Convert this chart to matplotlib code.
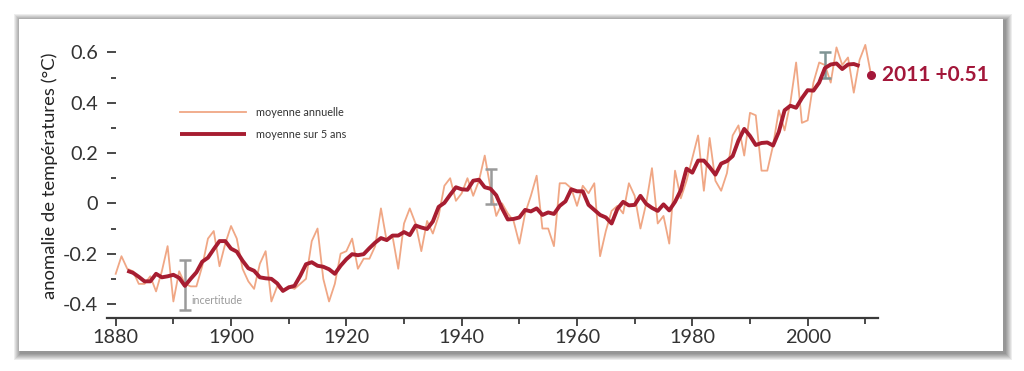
import matplotlib
matplotlib.use("Agg")
import matplotlib.pyplot as plt
from matplotlib.patches import Rectangle

plt.rcParams['font.family'] = ['Lato', 'DejaVu Sans']

# ---------------- data ----------------
years = list(range(1880, 2012))
annual = [
    -0.28, -0.21, -0.26, -0.27, -0.32, -0.32, -0.29, -0.35, -0.27, -0.17,
    -0.39, -0.27, -0.32, -0.33, -0.33, -0.25, -0.14, -0.11, -0.25, -0.16,
    -0.09, -0.14, -0.26, -0.31, -0.34, -0.24, -0.19, -0.39, -0.33, -0.35,
    -0.33, -0.34, -0.32, -0.30, -0.15, -0.10, -0.30, -0.39, -0.32, -0.20,
    -0.19, -0.14, -0.26, -0.22, -0.22, -0.17, -0.02, -0.15, -0.13, -0.26,
    -0.08, -0.02, -0.08, -0.19, -0.07, -0.12, -0.05, 0.07, 0.10, 0.01,
    0.04, 0.10, 0.03, 0.09, 0.19, 0.06, -0.05, 0.00, -0.04, -0.07,
    -0.16, -0.04, 0.03, 0.11, -0.10, -0.10, -0.17, 0.08, 0.08, 0.06,
    -0.01, 0.07, 0.04, 0.08, -0.21, -0.11, -0.03, -0.01, -0.04, 0.08,
    0.03, -0.10, 0.00, 0.14, -0.08, -0.05, -0.16, 0.13, 0.02, 0.09,
    0.18, 0.27, 0.05, 0.26, 0.09, 0.05, 0.12, 0.27, 0.31, 0.19,
    0.36, 0.35, 0.13, 0.13, 0.23, 0.37, 0.29, 0.40, 0.56, 0.32,
    0.33, 0.48, 0.56, 0.55, 0.48, 0.62, 0.55, 0.58, 0.44, 0.57,
    0.63, 0.51,
]

years5 = list(range(1882, 2010))
mean5 = [
    -0.268, -0.276, -0.292, -0.310, -0.310, -0.280, -0.294, -0.290,
    -0.284, -0.296, -0.328, -0.300, -0.274, -0.232, -0.216, -0.182, -0.150, -0.150,
    -0.180, -0.192, -0.228, -0.258, -0.268, -0.294, -0.298, -0.300, -0.318, -0.348,
    -0.334, -0.328, -0.288, -0.242, -0.234, -0.248, -0.252, -0.262, -0.280, -0.248,
    -0.222, -0.202, -0.206, -0.202, -0.178, -0.156, -0.138, -0.146, -0.128, -0.128,
    -0.114, -0.126, -0.088, -0.096, -0.102, -0.072, -0.014, 0.002, 0.034, 0.064,
    0.056, 0.054, 0.090, 0.094, 0.064, 0.058, 0.032, -0.020, -0.064, -0.062,
    -0.056, -0.026, -0.032, -0.020, -0.046, -0.036, -0.042, -0.010, 0.008, 0.056,
    0.048, 0.048, -0.006, -0.026, -0.046, -0.056, -0.080, -0.022, 0.006, -0.008,
    -0.006, 0.030, -0.002, -0.018, -0.030, -0.004, -0.028, 0.006, 0.052, 0.138,
    0.122, 0.170, 0.170, 0.144, 0.114, 0.158, 0.168, 0.188, 0.250, 0.296,
    0.268, 0.232, 0.240, 0.242, 0.230, 0.284, 0.370, 0.388, 0.380, 0.418,
    0.450, 0.448, 0.480, 0.538, 0.552, 0.556, 0.534, 0.552, 0.554, 0.546,
]

unc_years = [1892, 1945, 2003]
unc_center = [-0.325, 0.067, 0.55]
unc_half = [0.10, 0.07, 0.05]

last_year = 2011
last_value = 0.51

yticks_major = [-0.4, -0.2, 0.0, 0.2, 0.4, 0.6]
ytick_labels = ['-0.4', '-0.2', '0', '0.2', '0.4', '0.6']
yticks_minor = [-0.3, -0.1, 0.1, 0.3, 0.5]
xticks_major = [1880, 1900, 1920, 1940, 1960, 1980, 2000]
xticks_minor = [1890, 1910, 1930, 1950, 1970, 1990, 2010]

legend_labels = ['moyenne annuelle', 'moyenne sur 5 ans']
ylabel_text = 'anomalie de températures (°C)'

# ---------------- figure ----------------
W, H = 1024, 371
fig = plt.figure(figsize=(W / 100, H / 100), dpi=100)
fig.patch.set_facecolor('white')


def fx(px):
    return px / W


def fy(py):
    return 1 - py / H


# framed panel with soft drop shadow
px0, py0, px1, py1 = 19, 19, 1003, 351
for i in range(7, 0, -1):
    s = i * 1.0
    fig.patches.append(Rectangle((fx(px0 - s + 2), fy(py1 + s + 2)),
                                 fx(px1 - px0 + 2 * s), (py1 - py0 + 2 * s) / H,
                                 transform=fig.transFigure, facecolor='black',
                                 edgecolor='none', alpha=0.07, zorder=0))
fig.patches.append(Rectangle((fx(px0), fy(py1)), fx(px1 - px0), (py1 - py0) / H,
                             transform=fig.transFigure, facecolor='white',
                             edgecolor='none', zorder=1))

# axes placement
ax_left, ax_right = 107, 878
ax_top, ax_bottom = 32.3, 318
ax = fig.add_axes([fx(ax_left), fy(ax_bottom), fx(ax_right - ax_left),
                   (ax_bottom - ax_top) / H])
ax.set_facecolor('none')
ax.set_zorder(2)

ax.set_xlim(1878.49, 2012.2)
ax.set_ylim(-0.4557, 0.68)

c_annual = '#f0a785'
c_mean = '#a71d31'
c_text = '#a3173a'
c_axis = '#3a3a3a'

ax.plot(years, annual, color=c_annual, lw=1.3, label=legend_labels[0], zorder=3,
        solid_joinstyle='round')
ax.plot(years5, mean5, color=c_mean, lw=2.8, label=legend_labels[1], zorder=4,
        solid_joinstyle='round', solid_capstyle='butt')

unc_colors = ['#9a9a9a', '#9a9a9a', '#7f9494']
for yr, c, h, col in zip(unc_years, unc_center, unc_half, unc_colors):
    ax.errorbar([yr], [c], yerr=[h], fmt='none', ecolor=col, elinewidth=1.8,
                capsize=4, capthick=1.8, zorder=3.5)

ax.text(1893.2, -0.387, 'incertitude', fontsize=7.7, color='#9a9a9a',
        ha='left', va='center', zorder=5)

ax.plot([last_year], [last_value], 'o', color=c_text, ms=5.5, zorder=5,
        clip_on=False)
ax.annotate(f'{last_year} +{last_value:.2f}', xy=(last_year, last_value),
            xytext=(8, 0), textcoords='offset points', fontsize=15,
            fontweight='bold', color=c_text, ha='left', va='center',
            annotation_clip=False)

# spines / ticks
for side in ['top', 'right']:
    ax.spines[side].set_visible(False)
ax.spines['left'].set_visible(False)
ax.spines['left'].set_position(('data', 1880))
ax.spines['bottom'].set_color(c_axis)
ax.spines['bottom'].set_linewidth(1.6)

ax.set_yticks(yticks_major)
ax.set_yticklabels(ytick_labels)
ax.set_yticks(yticks_minor, minor=True)
ax.set_xticks(xticks_major)
ax.set_xticklabels([str(v) for v in xticks_major])
ax.set_xticks(xticks_minor, minor=True)

ax.tick_params(axis='y', which='major', direction='out', length=6.5, width=1.3,
               color=c_axis, labelsize=14.3, labelcolor='#333333', pad=6)
ax.tick_params(axis='y', which='minor', direction='out', length=3.5, width=1.3,
               color=c_axis)
ax.tick_params(axis='x', which='major', direction='out', length=6, width=1.3,
               color=c_axis, labelsize=14.3, labelcolor='#333333', pad=2)
ax.tick_params(axis='x', which='minor', direction='out', length=4, width=1.3,
               color=c_axis)

ax.set_ylabel(ylabel_text, fontsize=13.3, color='#222222')
ax.yaxis.set_label_coords((50 - ax_left) / (ax_right - ax_left), 0.497)
ax.yaxis.label.set_va('center')

leg = ax.legend(loc='upper left',
                bbox_to_anchor=(fx(180), fy(107)),
                bbox_transform=fig.transFigure, frameon=False, fontsize=7.8,
                handlelength=6.1, handletextpad=0.9, labelspacing=1.0,
                borderpad=0, borderaxespad=0)
for t in leg.get_texts():
    t.set_color('#333333')

fig.savefig('out.png', dpi=100, facecolor='white')
